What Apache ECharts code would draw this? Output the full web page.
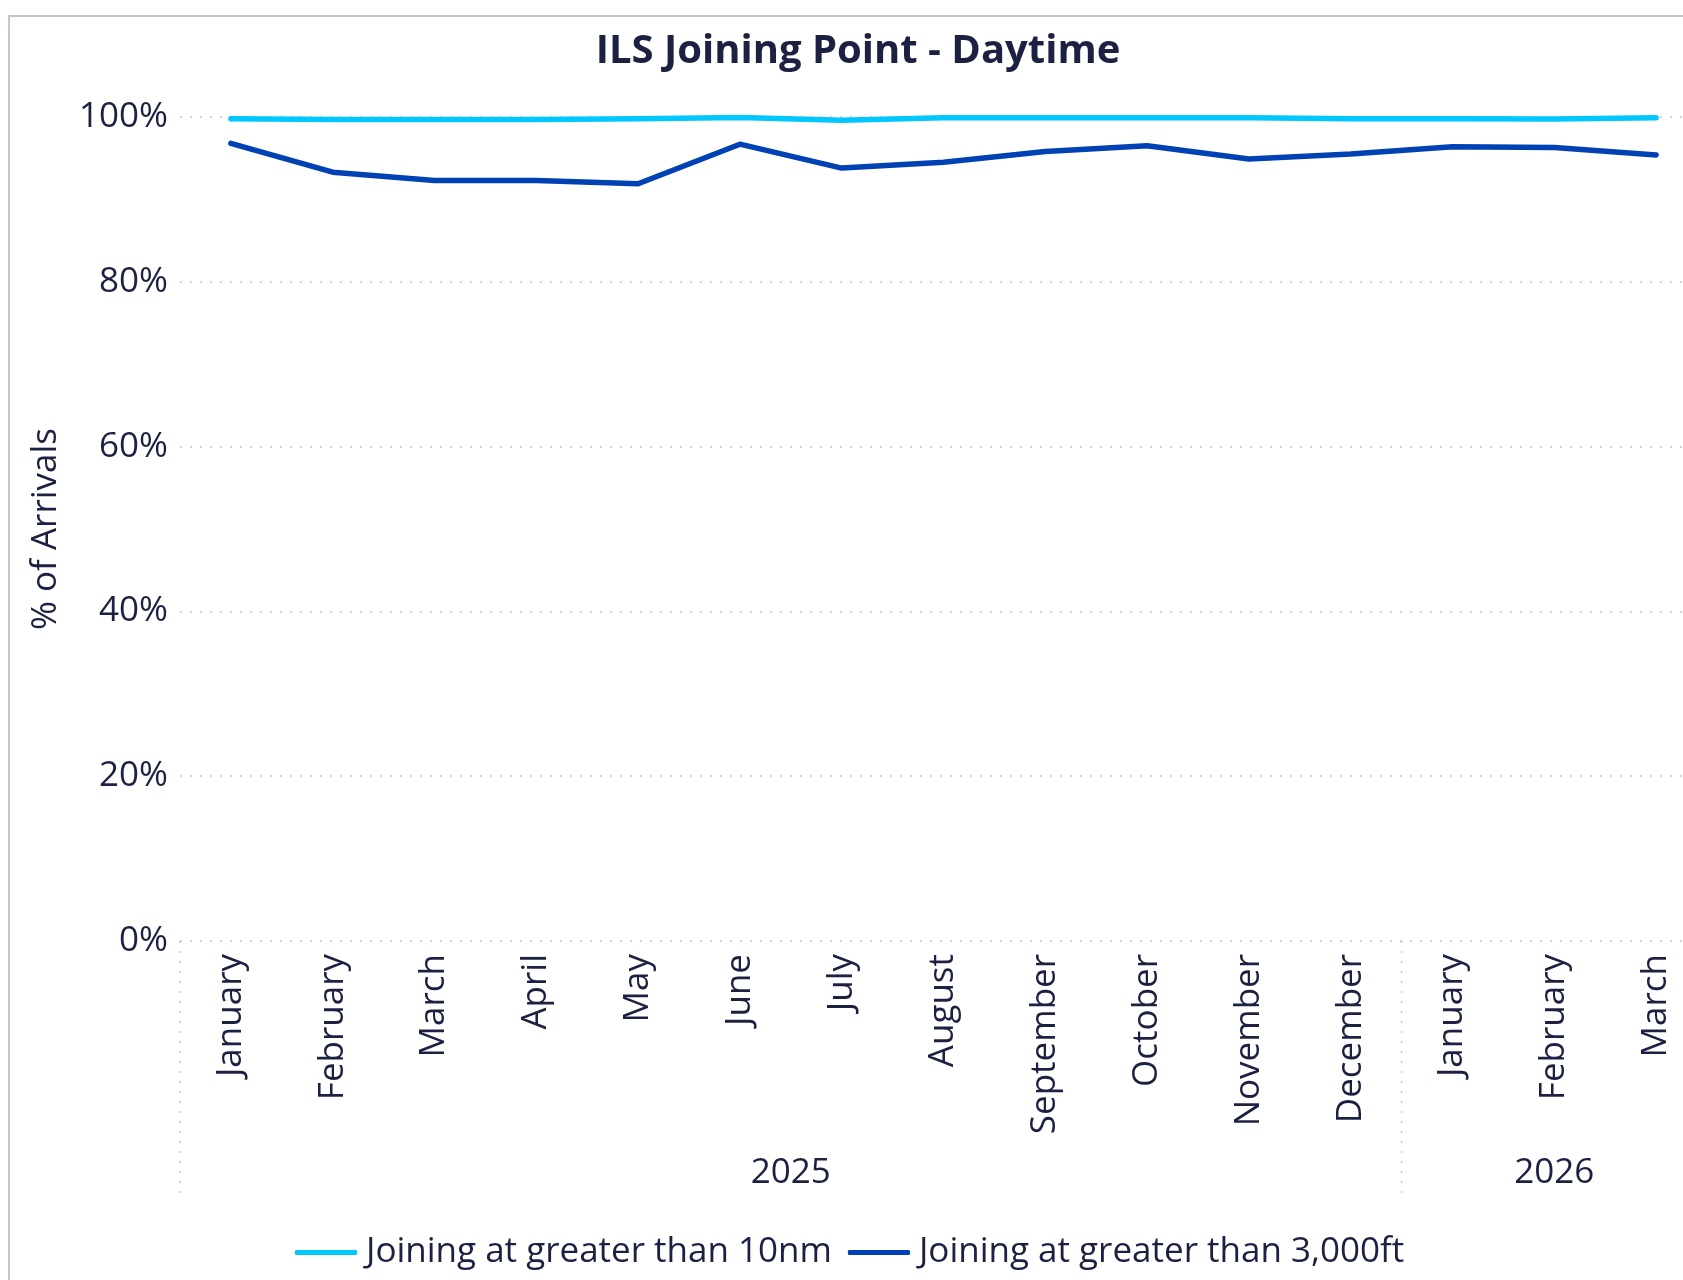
<!DOCTYPE html>
<html>
<head>
<meta charset="utf-8">
<script src="https://cdn.jsdelivr.net/npm/echarts@6/dist/echarts.min.js"></script>
<style>
html,body{margin:0;padding:0;background:#ffffff;}
#chart{width:1683px;height:1280px;}
</style>
</head>
<body>
<div id="chart"></div>
<script>
// ---- data ----
const chartTitle = 'ILS Joining Point - Daytime';
const months = ['January','February','March','April','May','June','July','August','September','October','November','December','January','February','March'];
const monthYears = ['2025','2025','2025','2025','2025','2025','2025','2025','2025','2025','2025','2025','2026','2026','2026'];
const seriesNames = ['Joining at greater than 10nm','Joining at greater than 3,000ft'];
const over10nm = [99.8,99.7,99.7,99.7,99.8,99.95,99.6,99.9,99.9,99.9,99.9,99.8,99.8,99.75,99.9];
const over3000ft = [96.8,93.3,92.3,92.3,91.9,96.7,93.8,94.5,95.8,96.5,94.9,95.5,96.4,96.3,95.4];
const yAxisName = '% of Arrivals';
const yMin = 0, yMax = 100, yStep = 20;

// ---- derived year groups ----
const yearGroups = [];
monthYears.forEach((y, i) => {
  const last = yearGroups[yearGroups.length - 1];
  if (last && last.year === y) last.end = i;
  else yearGroups.push({ year: y, start: i, end: i });
});
const yearBoundaries = yearGroups.map(g => [g.start - 0.5]);
const yearCenters = yearGroups.map(g => [(g.start + g.end) / 2, g.year]);

// ---- style ----
const FONT = '"Open Sans", "Noto Sans", sans-serif';
const TXT = '#1c2142';
const GRID_C = '#c6c6c6';
const C_LIGHT = '#00c8ff';
const C_DARK = '#0041b4';
const FS = 35;

const chart = echarts.init(document.getElementById('chart'), null, { renderer: 'canvas' });

const option = {
  backgroundColor: '#ffffff',
  animation: false,
  textStyle: { fontFamily: FONT },
  title: {
    text: chartTitle,
    left: 853,
    top: 27,
    textAlign: 'center',
    textStyle: { fontFamily: FONT, fontSize: 40, fontWeight: 'bold', color: TXT }
  },
  graphic: [{
    type: 'polyline',
    shape: { points: [[9, 1280], [9, 16], [1683, 16]] },
    style: { stroke: '#bcc8d4', lineWidth: 2, fill: null },
    silent: true
  }],
  legend: {
    data: seriesNames,
    left: 290,
    top: 1230,
    icon: 'roundRect',
    itemWidth: 62,
    itemHeight: 5,
    itemGap: 16,
    textStyle: { fontFamily: FONT, fontSize: FS, color: TXT, padding: [0, 0, 0, 4] }
  },
  grid: [
    { left: 180, width: 1527, top: 117, bottom: 339, containLabel: false, outerBoundsMode: 'none' },
    { left: 180, width: 1527, top: 941, height: 259, containLabel: false, outerBoundsMode: 'none' }
  ],
  xAxis: [
    {
      type: 'category',
      gridIndex: 0,
      data: months,
      boundaryGap: true,
      axisLine: { show: false },
      axisTick: { show: false },
      axisLabel: { rotate: 90, interval: 0, margin: 13, fontFamily: FONT, fontSize: FS, color: TXT }
    },
    { type: 'value', gridIndex: 1, min: -0.5, max: months.length - 0.5, show: false }
  ],
  yAxis: [
    {
      type: 'value',
      gridIndex: 0,
      min: yMin, max: yMax, interval: yStep,
      axisLine: { show: false },
      axisTick: { show: false },
      axisLabel: { formatter: '{value}%', margin: 12, fontFamily: FONT, fontSize: FS, color: TXT },
      splitLine: { show: true, lineStyle: { color: GRID_C, width: 1.5, type: [2, 8] } },
      name: yAxisName,
      nameLocation: 'middle',
      nameGap: 116,
      nameTextStyle: { fontFamily: FONT, fontSize: FS, color: TXT }
    },
    { type: 'value', gridIndex: 1, min: 0, max: 1, show: false }
  ],
  series: [
    {
      name: seriesNames[0],
      type: 'line',
      data: over10nm,
      xAxisIndex: 0, yAxisIndex: 0,
      showSymbol: false,
      symbol: 'none',
      lineStyle: { color: C_LIGHT, width: 5.5, cap: 'round', join: 'round' },
      itemStyle: { color: C_LIGHT },
      z: 3
    },
    {
      name: seriesNames[1],
      type: 'line',
      data: over3000ft,
      xAxisIndex: 0, yAxisIndex: 0,
      showSymbol: false,
      symbol: 'none',
      lineStyle: { color: C_DARK, width: 5.5, cap: 'round', join: 'round' },
      itemStyle: { color: C_DARK },
      z: 3
    },
    {
      type: 'custom',
      xAxisIndex: 1, yAxisIndex: 1,
      data: yearBoundaries,
      silent: true,
      renderItem: function (params, api) {
        const p0 = api.coord([api.value(0), 1]);
        const p1 = api.coord([api.value(0), 0]);
        return {
          type: 'line',
          shape: { x1: p0[0], y1: p0[1], x2: p1[0], y2: p1[1] },
          style: { stroke: GRID_C, lineWidth: 1.5, lineDash: [2, 8] }
        };
      }
    },
    {
      type: 'custom',
      xAxisIndex: 1, yAxisIndex: 1,
      data: yearCenters,
      silent: true,
      renderItem: function (params, api) {
        const p = api.coord([api.value(0), 0]);
        return {
          type: 'text',
          x: p[0], y: p[1] - 27,
          style: {
            text: yearCenters[params.dataIndex][1],
            fontFamily: FONT, fontSize: FS, fill: TXT,
            align: 'center', verticalAlign: 'middle'
          }
        };
      }
    }
  ]
};
chart.setOption(option);
</script>
</body>
</html>
